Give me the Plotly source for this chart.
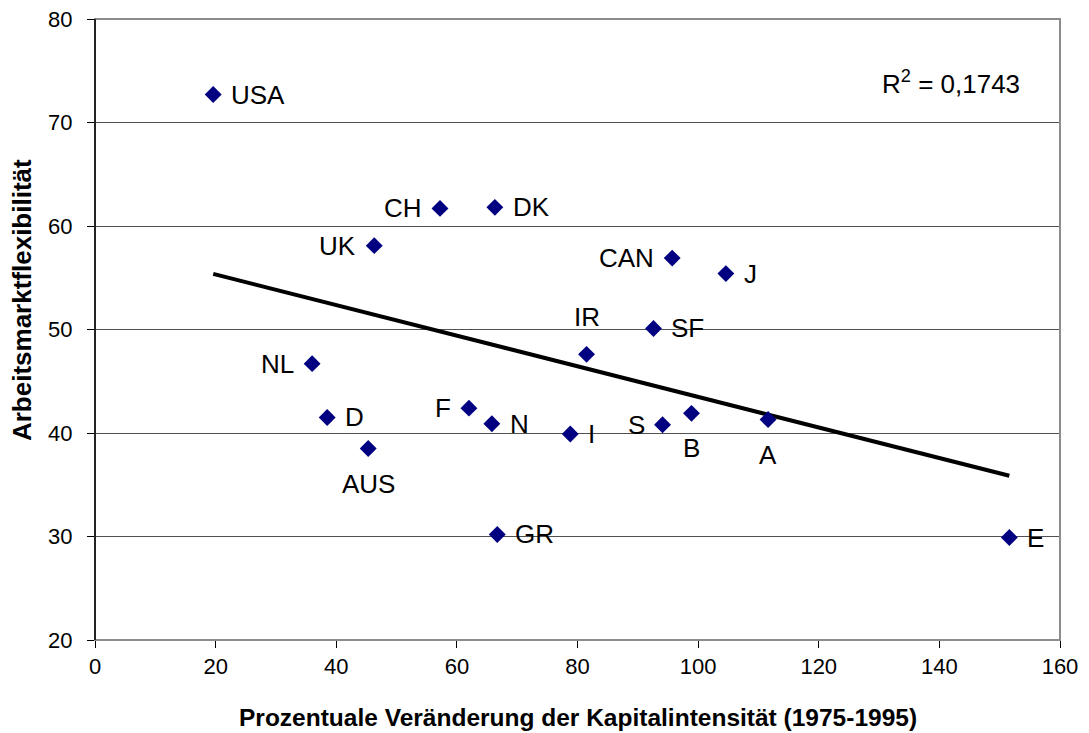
import numpy as np
import plotly.graph_objects as go

countries = ["USA", "CH", "DK", "UK", "CAN", "J", "SF", "IR", "NL", "D", "AUS",
             "F", "N", "I", "S", "B", "A", "E", "GR"]
kapital = [19.6, 57.2, 66.3, 46.3, 95.7, 104.6, 92.6, 81.5, 36.0, 38.5, 45.3,
           62.0, 65.8, 78.8, 94.1, 98.9, 111.6, 151.6, 66.7]
flex = [72.7, 61.7, 61.8, 58.1, 56.9, 55.4, 50.1, 47.6, 46.7, 41.5, 38.5,
        42.4, 40.9, 39.9, 40.8, 41.9, 41.3, 29.9, 30.2]
x_ticks = [0, 20, 40, 60, 80, 100, 120, 140, 160]
y_ticks = [20, 30, 40, 50, 60, 70, 80]
r2_label = "R<sup>2</sup> = 0,1743"
x_title = "Prozentuale Veränderung der Kapitalintensität (1975-1995)"
y_title = "Arbeitsmarktflexibilität"

# label placement style
R, L, T, B = "right", "left", "top", "bottom"
label_style = {"USA": R, "CH": L, "DK": R, "UK": L, "CAN": L, "J": R, "SF": R,
               "IR": T, "NL": L, "D": R, "AUS": B, "F": L, "N": R, "I": R,
               "S": L, "B": B, "A": B, "E": R, "GR": R}

FONT = "Liberation Sans, Arial, sans-serif"
LABEL_SIZE = 26

slope, intercept = np.polyfit(kapital, flex, 1)
xs = np.array([min(kapital), max(kapital)])
ys = slope * xs + intercept

fig = go.Figure()
fig.add_trace(go.Scatter(x=xs, y=ys, mode="lines",
                         line=dict(color="black", width=4), hoverinfo="skip"))
fig.add_trace(go.Scatter(
    x=kapital, y=flex, mode="markers",
    marker=dict(symbol="diamond", size=13, color="#000080", line=dict(width=0)),
))

for c, xv, yv in zip(countries, kapital, flex):
    side = label_style[c]
    kw = dict(x=xv, y=yv, xref="x", yref="y", text=c, showarrow=False,
              font=dict(family=FONT, size=LABEL_SIZE, color="black"),
              yanchor="middle")
    if side == R:
        kw.update(xanchor="left", xshift=16)
    elif side == L:
        kw.update(xanchor="right", xshift=-16)
    elif side == T:
        kw.update(xanchor="center", yshift=37)
    else:
        kw.update(xanchor="center", yshift=-35)
    fig.add_annotation(**kw)

fig.add_annotation(x=130.2, y=73.9, xref="x", yref="y", text=r2_label,
                   showarrow=False, xanchor="left", yanchor="middle",
                   font=dict(family=FONT, size=LABEL_SIZE, color="black"))

# axis titles
fig.add_annotation(x=0.5, y=-0.1256, xref="paper", yref="paper",
                   text="<b>" + x_title + "</b>", showarrow=False,
                   xanchor="center", yanchor="middle",
                   font=dict(family=FONT, size=24.5, color="black"))
fig.add_annotation(x=-0.0756, y=0.5475, xref="paper", yref="paper",
                   text="<b>" + y_title + "</b>", showarrow=False, textangle=-90,
                   xanchor="center", yanchor="middle",
                   font=dict(family=FONT, size=26, color="black"))

# plot border (top/right grey)
fig.add_shape(type="rect", xref="paper", yref="paper", x0=0, y0=0, x1=1, y1=1,
              line=dict(color="#8c8c8c", width=2), layer="above")
# left axis line in black
fig.add_shape(type="line", xref="paper", yref="paper", x0=0, y0=0, x1=0, y1=1,
              line=dict(color="black", width=1.5), layer="above")

fig.update_layout(
    width=1089, height=733,
    margin=dict(l=95, r=29, t=19, b=93, autoexpand=False),
    paper_bgcolor="white", plot_bgcolor="white",
    showlegend=False,
    font=dict(family=FONT, color="black"),
    xaxis=dict(range=[0, 160], tickvals=x_ticks, ticks="outside", ticklen=7,
               tickcolor="black", showgrid=False, zeroline=False,
               showline=False, automargin=False,
               tickfont=dict(size=22, family=FONT), ticklabelstandoff=0),
    yaxis=dict(range=[20, 80], tickvals=y_ticks, ticks="outside", ticklen=7,
               tickcolor="black", showgrid=True, gridcolor="#505050", gridwidth=1,
               zeroline=False, showline=False, automargin=False,
               tickfont=dict(size=22, family=FONT), ticklabelstandoff=10),
)

fig.write_html("out.html", config={"displayModeBar": False},
               post_script="document.body.style.margin='0px';document.body.style.padding='0px';")
